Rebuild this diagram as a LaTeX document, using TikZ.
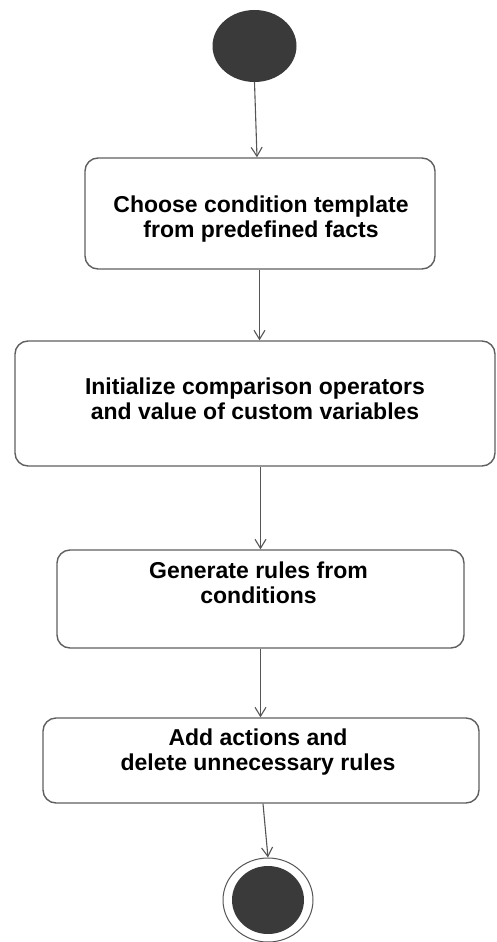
\documentclass[tikz,border=0pt]{standalone}
\usepackage{fontspec}
\setmainfont{Liberation Sans}
\usetikzlibrary{arrows.meta,shapes.geometric}
\definecolor{boxgray}{RGB}{95,95,95}
\definecolor{linegray}{RGB}{85,85,85}
\definecolor{dotfill}{RGB}{58,58,58}
\begin{document}
\begin{tikzpicture}[x=1pt,y=-1pt,
  action/.style={draw=boxgray,line width=1.4pt,rounded corners=13pt,inner sep=0pt},
  caption/.style={font=\bfseries\fontsize{23}{25}\selectfont,align=center,inner sep=0pt,anchor=base},
  flow/.style={draw=linegray,line width=1.1pt,-{Straight Barb[length=9pt,width=11pt]}},
  dot/.style={ellipse,fill=dotfill,inner sep=0pt}]
\useasboundingbox (0,0) rectangle (496,942);

% initial node
\node[dot,minimum width=84pt,minimum height=72pt] (start) at (254.5,46) {};

% action boxes
\node[action,minimum width=350pt,minimum height=111pt] (b1) at (260,213.5) {};
\node[action,minimum width=480pt,minimum height=125pt] (b2) at (255,403.5) {};
\node[action,minimum width=407pt,minimum height=98pt]  (b3) at (260.5,599) {};
\node[action,minimum width=436pt,minimum height=85pt]  (b4) at (261,760.5) {};

% box captions (anchored on the baseline of the last line)
\node[caption] (t1) at (261,237) {Choose condition template\\from predefined facts};
\node[caption] (t2) at (255,419) {Initialize comparison operators\\and value of custom variables};
\node[caption] (t3) at (258.5,603) {Generate rules from\\conditions};
\node[caption] (t4) at (258,770) {Add actions and\\delete unnecessary rules};

% final node
\node[ellipse,draw=linegray,line width=1pt,fill=white,inner sep=0pt,
      minimum width=90pt,minimum height=84pt] (end) at (268,900) {};
\node[dot,minimum width=72pt,minimum height=68pt] (endcore) at (end.center) {};

% control flow
\draw[flow] (start.south) -- ([xshift=-3pt]b1.north);
\draw[flow] ([xshift=-0.5pt]b1.south) -- ([xshift=-0.5pt]b1.south |- b2.north);
\draw[flow] (b3.north |- b2.south) -- (b3.north);
\draw[flow] (b3.south) -- (b3.south |- b4.north);
\draw[flow] ([xshift=2pt]b4.south) -- (end.north);
\end{tikzpicture}
\end{document}
